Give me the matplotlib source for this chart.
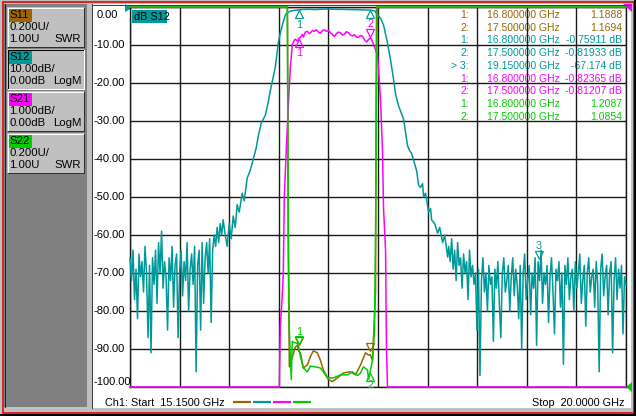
import numpy as np
import matplotlib
matplotlib.use("Agg")
import matplotlib.pyplot as plt
from matplotlib.patches import Rectangle, Polygon

plt.rcParams['font.family'] = ['Liberation Sans', 'DejaVu Sans']

# ---------------- sweep / channel settings ----------------
F_START, F_STOP = 15.15, 20.0
S12_DIV, S12_REF = 10.0, 0.0      # dB/div, ref at top
S21_DIV, S21_REF = 1.0, 0.0       # dB/div, ref at top
SWR_DIV, SWR_REF = 0.2, 1.0       # U/div, ref at bottom

BROWN, TEAL, MAGENTA, GREEN = '#996600', '#009999', '#ff00ff', '#00cc00'

# ---------------- S12 (dB) ----------------
# lower stop-band noise floor (equally spaced sweep points)
S12_LO_F = (15.15, 16.061)
S12_LO_DB = [-66, -72, -64, -77, -69, -82, -65, -71, -67, -75,
             -63, -70, -87, -68, -91, -66, -73, -64, -78, -62,
             -70, -59, -74, -67, -71, -85, -66, -72, -63, -79,
             -68, -65, -87, -70, -64, -76, -67, -72, -62, -80,
             -69, -65, -73, -63, -96, -68, -64, -85, -62, -78,
             -66, -62, -70, -61, -83, -64, -60, -63, -58, -62,
             -57, -60, -56]
# skirts and pass-band
S12_F = [16.081, 16.100, 16.120, 16.140, 16.159, 16.179, 16.198, 16.218, 16.247, 16.267,
         16.296, 16.326, 16.355, 16.385, 16.404, 16.434, 16.473, 16.502, 16.522, 16.551,
         16.571, 16.600, 16.620, 16.649, 16.669, 16.688, 16.718, 16.757, 16.800, 16.845,
         16.904, 16.963, 17.012, 17.080, 17.159, 17.237, 17.306, 17.374, 17.433, 17.500,
         17.541, 17.570, 17.600, 17.629, 17.668, 17.698, 17.727, 17.747, 17.776, 17.825,
         17.845, 17.864, 17.884, 17.903, 17.923, 17.952, 17.972, 17.991, 18.011, 18.021,
         18.040, 18.070, 18.089, 18.099, 18.129, 18.158, 18.178, 18.207, 18.227, 18.256]
S12_DB = [-60, -63, -57, -61, -55, -58, -52, -54, -49, -51,
          -45, -43, -40, -37, -34, -30.5, -28.5, -25, -22, -18.4,
          -15.8, -9.5, -6.8, -3.9, -2.1, -1.5, -1.1, -0.9, -0.759, -0.65,
          -0.6, -0.68, -0.6, -0.55, -0.6, -0.62, -0.68, -0.7, -0.75, -0.819,
          -1.0, -2.0, -3.0, -4.7, -9.5, -14, -19, -23, -26, -29.5,
          -33, -36.5, -37.8, -38.5, -40.3, -43, -46.9, -47.5, -46.5, -50,
          -49, -54, -53, -56, -57, -59.5, -58, -62, -60, -65.8]
# upper stop-band noise floor
S12_HI_F = (18.266, 20.0)
S12_HI_DB = [-63, -67, -61, -69, -64, -72, -62, -68, -66, -74,
             -65, -70, -67, -77, -64, -71, -68, -73, -70, -85,
             -69, -97, -72, -66, -75, -70, -80, -68, -73, -71,
             -88, -69, -74, -67, -78, -87, -70, -66, -75, -72,
             -68, -80, -71, -66, -76, -69, -73, -82, -68, -90,
             -70, -65, -77, -72, -68, -81, -70, -74, -66, -89,
             -67, -72, -64, -78, -70, -73, -68, -83, -71, -66,
             -75, -86, -69, -72, -67, -79, -70, -94, -68, -73,
             -66, -77, -71, -69, -80, -67, -74, -70, -65, -78,
             -72, -68, -84, -70, -66, -75, -71, -69, -79, -67,
             -73, -96, -69, -65, -76, -71, -68, -81, -70, -67,
             -91, -72, -66, -77, -69, -74, -68, -86, -71, -73]

# ---------------- S21 (dB) ----------------
S21_F = [15.15, 16.500, 16.610, 16.620, 16.639, 16.649, 16.659, 16.679, 16.698, 16.718,
         16.737, 16.757, 16.767, 16.786, 16.800, 16.816, 16.835, 16.845, 16.865, 16.884,
         16.904, 16.914, 16.933, 16.953, 16.972, 16.992, 17.012, 17.031, 17.051, 17.070,
         17.090, 17.110, 17.129, 17.149, 17.168, 17.188, 17.208, 17.227, 17.247, 17.266,
         17.286, 17.306, 17.325, 17.345, 17.364, 17.384, 17.404, 17.423, 17.443, 17.463,
         17.482, 17.500, 17.511, 17.531, 17.551, 17.570, 17.580, 17.600, 17.619, 17.629,
         17.649, 17.658, 17.668, 17.800, 20.0]
S21_DB = [-40, -25, -12, -8.4, -7.6, -7.0, -5.0, -3.7, -2.6, -1.58,
          -1.0, -0.87, -0.85, -0.90, -0.824, -0.80, -0.72, -0.79, -0.66, -0.64,
          -0.70, -0.68, -0.62, -0.64, -0.60, -0.66, -0.69, -0.62, -0.60, -0.64,
          -0.62, -0.68, -0.72, -0.78, -0.70, -0.66, -0.68, -0.74, -0.71, -0.65,
          -0.68, -0.74, -0.76, -0.73, -0.79, -0.80, -0.75, -0.77, -0.86, -0.92,
          -0.86, -0.812, -0.85, -0.98, -1.13, -1.25, -1.6, -2.45, -3.8, -5.3,
          -6.4, -9.0, -12, -25, -40]

# ---------------- S11 / S22 (SWR) ----------------
S11_F = [15.15, 16.680, 16.690, 16.698, 16.708, 16.767, 16.786, 16.800, 16.816, 16.845,
         16.884, 16.914, 16.943, 16.982, 17.012, 17.041, 17.090, 17.129, 17.178, 17.237,
         17.306, 17.355, 17.404, 17.453, 17.482, 17.500, 17.521, 17.551, 17.560, 20.0]
S11_SWR = [8.0, 8.0, 3.5, 1.70, 1.106, 1.21, 1.22, 1.1888, 1.18, 1.10,
           1.116, 1.16, 1.19, 1.18, 1.14, 1.09, 1.04, 1.028, 1.048, 1.074,
           1.08, 1.064, 1.116, 1.18, 1.168, 1.1694, 1.14, 1.5, 3.5, 8.0]
S22_F = [15.15, 16.680, 16.688, 16.698, 16.708, 16.718, 16.727, 16.737, 16.747, 16.786,
         16.800, 16.816, 16.845, 16.884, 16.914, 16.963, 17.012, 17.041, 17.080, 17.139,
         17.208, 17.276, 17.325, 17.374, 17.404, 17.433, 17.472, 17.482, 17.500, 17.521,
         17.541, 17.551, 17.560, 17.570, 20.0]
S22_SWR = [8.0, 8.0, 3.5, 1.80, 1.30, 1.16, 1.04, 1.24, 1.235, 1.23,
           1.2087, 1.16, 1.10, 1.08, 1.11, 1.106, 1.10, 1.08, 1.048, 1.048,
           1.064, 1.064, 1.08, 1.06, 1.074, 1.106, 1.09, 1.04, 1.0854, 1.14,
           1.30, 1.80, 2.60, 3.5, 8.0]

# ---------------- texts ----------------
Y_TICKS = [0, -10, -20, -30, -40, -50, -60, -70, -80, -90, -100]
Y_LABELS = ['0.00', '-10.00', '-20.00', '-30.00', '-40.00', '-50.00', '-60.00',
            '-70.00', '-80.00', '-90.00', '-100.00']
CH_NAMES = ['S11', 'S12', 'S21', 'S22']
CH_SCALE = ['0.200U/', '10.00dB/', '1.000dB/', '0.200U/']
CH_REF = ['1.00U', '0.00dB', '0.00dB', '1.00U']
CH_FMT = ['SWR', 'LogM', 'LogM', 'SWR']
CH_COLORS = [BROWN, TEAL, MAGENTA, GREEN]
RD_LABELS = ['1:', '2:', '1:', '2:', '> 3:', '1:', '2:', '1:', '2:']
RD_FREQS = ['16.800000 GHz', '17.500000 GHz', '16.800000 GHz', '17.500000 GHz',
            '19.150000 GHz', '16.800000 GHz', '17.500000 GHz', '16.800000 GHz',
            '17.500000 GHz']
RD_VALUES = ['1.1888', '1.1694', '-0.75911 dB', '-0.81933 dB', '-67.174 dB',
             '-0.82365 dB', '-0.81207 dB', '1.2087', '1.0854']
RD_COLORS = [BROWN, BROWN, TEAL, TEAL, TEAL, MAGENTA, MAGENTA, GREEN, GREEN]
MARKER_F = [16.8, 17.5, 19.15]


def logm_disp(v, ref, div):
    return np.clip((np.asarray(v, float) - ref) / div * 10.0, -100, 0)


def swr_disp(v, ref, div):
    return np.clip(-100 + (np.asarray(v, float) - ref) / div * 10.0, -100, 0)


W, H = 636, 416
fig = plt.figure(figsize=(W / 100, H / 100), dpi=100)
fig.patch.set_facecolor('#c0c0c0')

# ---------- background / frame (pixel coordinates) ----------
bg = fig.add_axes([0, 0, 1, 1])
bg.set_xlim(0, W)
bg.set_ylim(H, 0)
bg.axis('off')
PX = 0.72
bg.add_patch(Rectangle((2.5, 1.5), 631, 411, fill=False, ec='#e00000', lw=1.6 * PX))
bg.plot([0, W], [415, 415], color='#000000', lw=2 * PX)
bg.plot([635, 635], [0, H], color='#000000', lw=2 * PX)
bg.add_patch(Rectangle((4, 4), 83, 403, fc='#808080', ec='none'))
bg.plot([4.5, 4.5], [4, 407], color='#202020', lw=PX)
bg.add_patch(Rectangle((92, 4), 539, 404, fc='white', ec='none'))
bg.plot([91.5, 91.5], [4, 408], color='#404040', lw=PX)
bg.plot([91.5, 631], [4.5, 4.5], color='#404040', lw=PX)

for i in range(4):
    y0 = 7 + 42 * i
    bg.add_patch(Rectangle((7, y0), 77, 40, fc='#c0c0c0', ec='none'))
    tl, br = ('#000000', 'white') if i == 1 else ('white', '#303030')
    bg.plot([7.5, 7.5, 83.5], [y0 + 40, y0 + 0.5, y0 + 0.5], color=tl, lw=PX)
    bg.plot([7.5, 83.5, 83.5], [y0 + 39.5, y0 + 39.5, y0 + 0.5], color=br, lw=PX)
    bg.add_patch(Rectangle((8.5, y0 + 2), 23, 12.5, fc=CH_COLORS[i], ec='none'))
    bg.text(9.5, y0 + 8.5, CH_NAMES[i], fontsize=8.2, va='center', ha='left', color='black')
    bg.text(9.5, y0 + 20.5, CH_SCALE[i], fontsize=8.2, va='center', ha='left', color='black')
    bg.text(9.5, y0 + 32.5, CH_REF[i], fontsize=8.2, va='center', ha='left', color='black')
    bg.text(81, y0 + 32.5, CH_FMT[i], fontsize=8.2, va='center', ha='right', color='black')

# bottom annotation
bg.text(105, 403, 'Ch1: Start  15.1500 GHz', fontsize=7.8, va='center', ha='left')
bg.text(624, 403, 'Stop  20.0000 GHz', fontsize=7.8, va='center', ha='right')
for j, c in enumerate(CH_COLORS):
    x0 = 233 + 20 * j
    bg.plot([x0, x0 + 18], [402, 402], color=c, lw=2.2 * PX, solid_capstyle='butt')

# reference-position arrows
bg.add_patch(Polygon([[125, 4], [132, 8], [125, 12]], closed=True, fc=TEAL, ec='none'))
bg.add_patch(Polygon([[623, 4], [632, 4], [632, 12]], closed=True, fc=MAGENTA, ec='none'))
bg.add_patch(Polygon([[626, 387], [632, 382], [632, 392]], closed=True, fc=GREEN, ec='none'))

# ---------- graticule ----------
ax = fig.add_axes([130 / W, 1 - 387 / H, 496 / W, 380 / H])
ax.patch.set_visible(False)
ax.set_zorder(2)
ax.set_xlim(F_START, F_STOP)
ax.set_ylim(-100, 0)
ax.set_xticks(np.linspace(F_START, F_STOP, 11))
ax.set_yticks(Y_TICKS)
ax.tick_params(length=0, labelbottom=False, labelleft=False)
ax.grid(True, color='#1a1a1a', lw=1.0)
ax.set_axisbelow(True)
for s in ax.spines.values():
    s.set_color('#1a1a1a')
    s.set_linewidth(1.0)

ytr = ax.get_yaxis_transform()
for v, lab in zip(Y_TICKS, Y_LABELS):
    if v == 0:
        ax.text(-33 / 496, v - 2.2, lab, transform=ytr, fontsize=8, ha='left', va='center')
    elif v == -100:
        ax.text(-37 / 496, v + 1.4, lab, transform=ytr, fontsize=8, ha='left', va='center')
    else:
        ax.text(-37 / 496, v, lab, transform=ytr, fontsize=8, ha='left', va='center')

# ---------- traces ----------
f_s12 = np.concatenate([np.linspace(S12_LO_F[0], S12_LO_F[1], len(S12_LO_DB)),
                        S12_F,
                        np.linspace(S12_HI_F[0], S12_HI_F[1], len(S12_HI_DB))])
v_s12 = np.concatenate([S12_LO_DB, S12_DB, S12_HI_DB])
lw = 1.1
ax.plot(S11_F, swr_disp(S11_SWR, SWR_REF, SWR_DIV), color=BROWN, lw=lw, zorder=3, clip_on=False)
ax.plot(f_s12, logm_disp(v_s12, S12_REF, S12_DIV), color=TEAL, lw=lw, zorder=4, clip_on=False)
ax.plot(S21_F, logm_disp(S21_DB, S21_REF, S21_DIV), color=MAGENTA, lw=lw, zorder=5, clip_on=False)
ax.plot(S22_F, swr_disp(S22_SWR, SWR_REF, SWR_DIV), color=GREEN, lw=lw, zorder=6, clip_on=False)

# "dB S12" tag
bg.add_patch(Rectangle((132, 10), 35, 13, fc=TEAL, ec='none', zorder=3))
bg.text(133.5, 16.5, 'dB S12', fontsize=7.8, va='center', ha='left', color='black', zorder=4)

# ---------- markers ----------
mk = dict(ms=6, mfc='none', mew=0.9, ls='none', zorder=7, clip_on=False)
tk = dict(fontsize=7.8, ha='center', va='center', zorder=7)
# S12 markers
ax.plot([MARKER_F[0], MARKER_F[1]], [-1.9, -1.9], marker='^', mec=TEAL, **mk)
ax.text(MARKER_F[0], -4.7, '1', color=TEAL, **tk)
ax.plot([MARKER_F[2]], [-65.3], marker='v', mec=TEAL, **mk)
ax.text(MARKER_F[2], -63.0, '3', color=TEAL, **tk)
# S21 markers
ax.plot([MARKER_F[0]], [-9.6], marker='^', mec=MAGENTA, **mk)
ax.text(MARKER_F[0], -12.2, '1', color=MAGENTA, **tk)
ax.plot([MARKER_F[1]], [-6.9], marker='v', mec=MAGENTA, **mk)
ax.text(MARKER_F[1], -4.6, '2', color=MAGENTA, **tk)
# S11 / S22 markers
ax.plot([MARKER_F[0]], [-88.0], marker='v', mec=BROWN, **mk)
ax.plot([MARKER_F[0]], [-87.6], marker='v', mec=GREEN, **mk)
ax.text(MARKER_F[0], -85.6, '1', color=GREEN, **tk)
ax.plot([MARKER_F[1]], [-89.6], marker='v', mec=BROWN, **mk)
ax.plot([MARKER_F[1]], [-97.4], marker='^', mec=GREEN, **mk)
ax.text(MARKER_F[1], -99.6, '2', color=GREEN, **tk)

# ---------- marker readout ----------
for i in range(len(RD_LABELS)):
    y = 15 + 12.7 * i
    c = RD_COLORS[i]
    bg.text(469, y, RD_LABELS[i], color=c, fontsize=7.5, ha='right', va='center', zorder=5)
    bg.text(487, y, RD_FREQS[i], color=c, fontsize=7.5, ha='left', va='center', zorder=5)
    bg.text(622, y, RD_VALUES[i], color=c, fontsize=7.5, ha='right', va='center', zorder=5)
bg.set_zorder(1)

fig.savefig('out.png', dpi=100, facecolor=fig.get_facecolor())
